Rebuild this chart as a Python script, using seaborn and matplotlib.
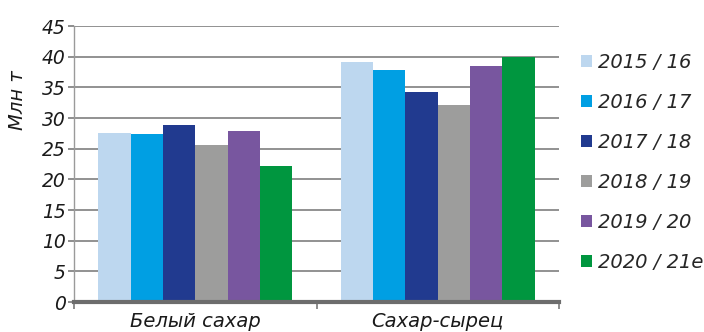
import matplotlib
matplotlib.use("Agg")
import matplotlib.pyplot as plt
import seaborn as sns
import pandas as pd

# Production by sugar type and season, million tonnes
categories = ["Белый сахар", "Сахар-сырец"]
seasons = ["2015 / 16", "2016 / 17", "2017 / 18", "2018 / 19", "2019 / 20", "2020 / 21e"]
white_sugar = [27.6, 27.4, 28.9, 25.6, 27.9, 22.1]
raw_sugar = [39.1, 37.9, 34.2, 32.1, 38.5, 40.0]
y_ticks = [0, 5, 10, 15, 20, 25, 30, 35, 40, 45]
colors = ["#BDD7EF", "#009FE3", "#213A8F", "#9D9D9C", "#78569F", "#00963F"]

df = pd.DataFrame({
    "type": [categories[0]] * len(seasons) + [categories[1]] * len(seasons),
    "season": seasons * 2,
    "value": white_sugar + raw_sugar,
})

sns.set_theme(style="white")
plt.rcParams["font.family"] = ["DejaVu Sans"]
plt.rcParams["font.style"] = "italic"

fig = plt.figure(figsize=(7.04, 3.32), dpi=100)
ax = fig.add_axes([74 / 704, 1 - 302 / 332, (559 - 74) / 704, 276 / 332])

sns.barplot(data=df, x="type", y="value", hue="season", hue_order=seasons,
            palette=colors, width=0.8, saturation=1, ax=ax, legend=True,
            edgecolor="none", zorder=3)

ax.set_xlim(-0.5, 1.5)
ax.set_ylim(0, 45)
ax.set_yticks(y_ticks)
ax.set_yticklabels([str(t) for t in y_ticks], fontsize=13.5, color="#1a1a1a")
ax.set_xticks([0, 1])
ax.set_xticklabels(categories, fontsize=14, color="#1a1a1a")

# category boundary ticks below the baseline
ax.set_xticks([-0.5, 0.5, 1.5], minor=True)
ax.tick_params(axis="x", which="major", length=0, pad=7)
ax.tick_params(axis="x", which="minor", length=5, width=1.2, color="#7a7a7a", direction="out", bottom=True)
ax.tick_params(axis="y", length=4, width=1.2, color="#7a7a7a", direction="out", pad=2, left=True)

ax.yaxis.grid(True, color="#7f7f7f", linewidth=1.2, zorder=0)
ax.set_axisbelow(True)
for side in ["top", "right"]:
    ax.spines[side].set_visible(False)
ax.spines["left"].set_color("#9a9a9a")
ax.spines["left"].set_linewidth(1.0)
ax.spines["bottom"].set_color("#6d6d6d")
ax.spines["bottom"].set_linewidth(3)
ax.spines["bottom"].set_zorder(4)

ax.set_xlabel("")
ax.set_ylabel("Млн т", fontsize=14, color="#1a1a1a")
ax.yaxis.set_label_coords(-0.097, 0.73)

handles, labels = ax.get_legend_handles_labels()
ax.legend(handles, labels, loc="upper left", bbox_to_anchor=(581 / 704, 1 - 53 / 332),
          bbox_transform=fig.transFigure, frameon=False, fontsize=14,
          handlelength=0.55, handleheight=0.55, handletextpad=0.35,
          labelspacing=1.08, borderaxespad=0, borderpad=0)

fig.savefig("out.png", dpi=100)
